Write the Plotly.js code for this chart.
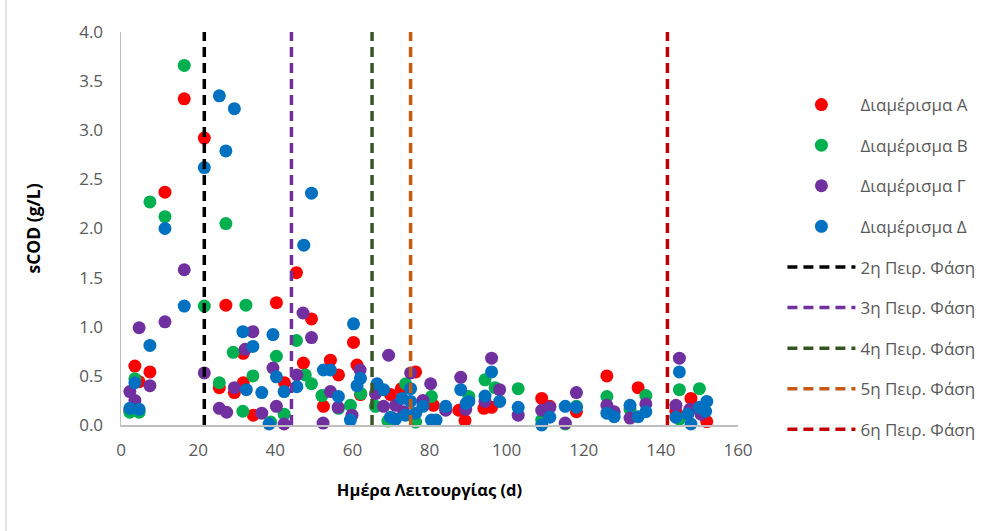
<!DOCTYPE html>
<html>
<head>
<meta charset="utf-8">
<script src="https://cdn.plot.ly/plotly-3.0.1.min.js"></script>
<style>html,body{margin:0;padding:0;background:#fff;}#chart{width:1006px;height:531px;}</style>
</head>
<body>
<div id="chart"></div>
<script>
// Series: [day, sCOD g/L]
const daysA = [2.3,3.6,4.7,7.5,11.4,16.4,21.6,25.5,27.2,29.4,31.7,31.7,34.3,40.3,42.4,45.5,47.3,49.4,52.5,54.3,56.4,60.3,61.2,62.1,69.9,72.7,76.4,81,87.6,89.2,94.1,96.1,109.1,111.2,118.1,126,134.1,143.9,147.8,151.9];
const valsA = [0.15,0.60,0.44,0.54,2.37,3.32,2.92,0.38,1.22,0.33,0.73,0.43,0.10,1.245,0.43,1.55,0.63,1.08,0.19,0.66,0.51,0.84,0.61,0.31,0.31,0.37,0.54,0.20,0.15,0.045,0.17,0.18,0.27,0.19,0.135,0.50,0.38,0.14,0.27,0.035];

const daysB = [2.3,3.6,4.7,7.5,11.4,16.4,21.6,25.5,27.2,29.1,31.6,32.4,34.2,38.8,40.3,42.3,45.5,47.8,49.4,52.1,56.4,59.5,62.2,66.0,69.2,73.8,76.4,80.5,84.2,90.2,94.4,97,103,109.1,115.2,118.1,126,132,136.1,144.8,144.8,150];
const valsB = [0.13,0.47,0.13,2.27,2.12,3.66,1.21,0.43,2.05,0.74,0.14,1.22,0.50,0.03,0.70,0.11,0.86,0.51,0.42,0.30,0.17,0.20,0.32,0.19,0.04,0.42,0.03,0.29,0.16,0.29,0.46,0.38,0.37,0.05,0.01,0.19,0.29,0.16,0.30,0.36,0.06,0.37];

const daysC = [2.3,3.6,4.7,7.5,11.4,16.4,21.6,25.5,27.4,29.4,32.2,34.2,36.5,39.4,40.3,42.3,45.6,47.2,49.4,52.4,54.3,56.3,59.9,62.0,66.0,68.1,69.4,71.2,73.3,75.1,78.3,80.3,84.2,88.1,89.4,94.4,96.1,98.2,103,109.1,111.2,115.2,118.1,126,127.9,132,136.1,143.9,144.8,147.5,150.4];
const valsC = [0.34,0.25,0.99,0.40,1.05,1.58,0.53,0.17,0.13,0.38,0.77,0.95,0.12,0.58,0.19,0.01,0.51,1.14,0.89,0.02,0.34,0.18,0.10,0.56,0.32,0.19,0.71,0.20,0.135,0.53,0.25,0.42,0.15,0.485,0.16,0.24,0.68,0.36,0.10,0.15,0.18,0.02,0.33,0.20,0.135,0.07,0.215,0.20,0.68,0.16,0.11];

const daysD = [2.3,3.6,4.7,7.5,11.4,16.4,21.6,25.5,27.2,29.4,31.6,32.5,34.2,36.5,38.4,39.4,40.3,42.3,45.6,47.4,49.4,52.5,54.3,56.4,59.5,60.3,61.2,62.1,66.4,68.1,69.9,71.2,72.9,73.8,75.1,75.1,76.4,78.3,80.5,81.7,84.2,88.1,89.5,90.2,94.4,96.1,98.2,103,109.1,111.2,115.2,118.1,126,127.9,132,134.1,136.1,143.9,144.8,147,147.8,150,151.6,151.9];
const valsD = [0.17,0.43,0.16,0.81,2.0,1.21,2.62,3.35,2.79,3.22,0.95,0.36,0.80,0.33,0.01,0.92,0.49,0.34,0.39,1.83,2.36,0.56,0.56,0.29,0.05,1.03,0.40,0.475,0.42,0.36,0.08,0.06,0.27,0.10,0.37,0.24,0.12,0.19,0.05,0.05,0.19,0.36,0.22,0.24,0.295,0.54,0.24,0.18,0.0,0.08,0.19,0.18,0.12,0.085,0.20,0.085,0.135,0.08,0.54,0.11,0.01,0.18,0.14,0.24];

const seriesNames = ['Διαμέρισμα Α','Διαμέρισμα Β','Διαμέρισμα Γ','Διαμέρισμα Δ'];
const seriesColors = ['#FF0000','#00B050','#7030A0','#0070C0'];

const phaseNames = ['2η Πειρ. Φάση','3η Πειρ. Φάση','4η Πειρ. Φάση','5η Πειρ. Φάση','6η Πειρ. Φάση'];
const phaseDays = [21.6,44.2,65.1,75.1,141.7];
const phaseColors = ['#000000','#7030A0','#375623','#C55A11','#C00000'];
const yMin = 0, yMax = 4;

const allDays = [daysA,daysB,daysC,daysD];
const allVals = [valsA,valsB,valsC,valsD];

const traces = [];
for (let i = 0; i < 4; i++) {
  traces.push({
    type:'scatter', mode:'markers', x: allDays[i], y: allVals[i], name: seriesNames[i],
    legendgroup: 'g'+i, cliponaxis:false,
    marker:{color: seriesColors[i], size: 13, line:{width:0}}
  });
}
for (let j = 0; j < phaseDays.length; j++) {
  traces.push({
    type:'scatter', mode:'lines', x:[phaseDays[j], phaseDays[j]], y:[yMin, yMax], name: phaseNames[j],
    legendgroup: 'p'+j,
    line:{color: phaseColors[j], width: 3.5, dash:'10px,6px'}
  });
}

const fontFam = '"Open Sans", "Noto Sans", sans-serif';
const layout = {
  width:1006, height:531,
  margin:{l:121, r:268, t:32, b:106},
  paper_bgcolor:'#fff', plot_bgcolor:'#fff',
  showlegend:true,
  font:{family: fontFam, color:'#595959', size:16},
  xaxis:{
    range:[0,160], dtick:20, tick0:0, showgrid:false, zeroline:false,
    showline:true, linecolor:'#BFBFBF', linewidth:1.5, ticks:'',
    tickfont:{size:17, color:'#595959', family: fontFam},
    ticklabelstandoff: 9,
    automargin:true,
    title:{text:'<b>Ημέρα Λειτουργίας (d)</b>', font:{size:16.5, color:'#000000', family: fontFam}, standoff: 24}
  },
  yaxis:{
    range:[0,4], dtick:0.5, tick0:0, tickformat:'.1f', showgrid:false, zeroline:false,
    showline:true, linecolor:'#BFBFBF', linewidth:1.5, ticks:'',
    tickfont:{size:17, color:'#595959', family: fontFam},
    ticklabelstandoff: 13,
    automargin:true,
    title:{text:'<b>sCOD (g/L)</b>', font:{size:17.5, color:'#000000', family: fontFam}, standoff: 34}
  },
  legend:{
    x: 1.072, xanchor:'left', y: 0.86, yanchor:'top',
    traceorder:'grouped', tracegroupgap: 15.5,
    itemwidth: 68,
    font:{size:17, color:'#595959', family: fontFam},
    bgcolor:'rgba(0,0,0,0)'
  },
  shapes:[
    {type:'line', xref:'paper', yref:'paper', x0:-0.1864, x1:-0.1864, y0:-0.27, y1:1.09, line:{color:'#D9D9D9', width:1.5}}
  ]
};

Plotly.newPlot('chart', traces, layout, {staticPlot:true, displayModeBar:false});
</script>
</body>
</html>
